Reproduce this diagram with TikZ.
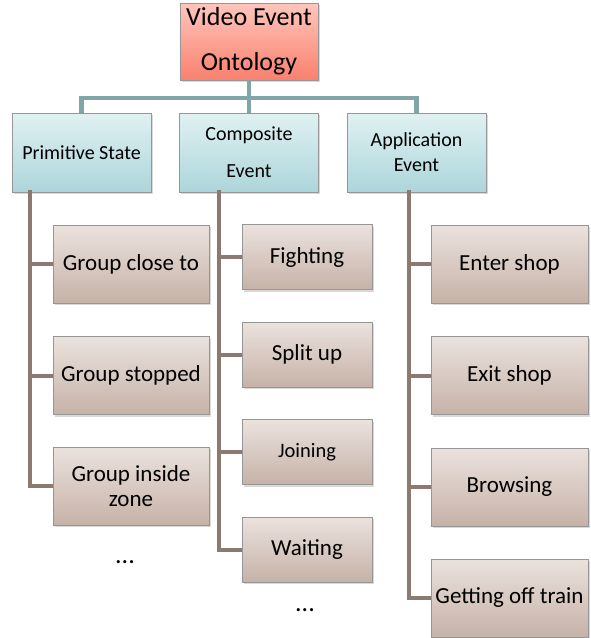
\documentclass[tikz,border=0pt]{standalone}
\usepackage{fontspec}
\setmainfont{Carlito}
\usetikzlibrary{shadows}
\definecolor{rootTop}{RGB}{255,198,188}
\definecolor{rootBot}{RGB}{249,128,110}
\definecolor{midTop}{RGB}{224,241,243}
\definecolor{midBot}{RGB}{172,214,218}
\definecolor{leafTop}{RGB}{235,226,222}
\definecolor{leafBot}{RGB}{198,178,167}
\definecolor{boxEdge}{RGB}{150,150,150}
\definecolor{tealLine}{RGB}{128,166,166}
\definecolor{brownLine}{RGB}{140,122,112}
\tikzset{
  basebox/.style={rectangle, draw=boxEdge, line width=0.8pt, align=center, inner sep=1pt,
    drop shadow={opacity=0.3, shadow xshift=1.5pt, shadow yshift=-2pt}},
  rootbox/.style={basebox, top color=rootTop, bottom color=rootBot,
    minimum width=138pt, minimum height=77pt, font=\fontsize{26}{45}\selectfont},
  midbox/.style={basebox, top color=midTop, bottom color=midBot,
    minimum width=139pt, minimum height=79pt, font=\fontsize{20}{25}\selectfont},
  leafbox/.style={basebox, top color=leafTop, bottom color=leafBot,
    minimum height=78pt, font=\fontsize{23}{25}\selectfont},
  wideleaf/.style={leafbox, minimum width=156pt},
  compleaf/.style={leafbox, minimum width=130pt, minimum height=65pt},
  appleaf/.style={leafbox, minimum width=157pt},
  tealconn/.style={draw=tealLine, line width=4.5pt},
  brownconn/.style={draw=brownLine, line width=4pt},
  dots/.style={font=\fontsize{26}{26}\selectfont}
}
\begin{document}
\begin{tikzpicture}[x=1pt,y=-1pt]
\useasboundingbox (0,0) rectangle (591,638);
\coordinate (hb) at (249,98);
\coordinate (pv) at (30,190);
\coordinate (cv) at (219,190);
\coordinate (av) at (409,190);

\node[rootbox] (root) at (249,41.5) {Video Event\\Ontology};
\node[midbox] (prim) at (81.5,152.5) {Primitive State};
\node[midbox, font=\fontsize{20}{37}\selectfont] (comp) at (249,152.5) {Composite\\Event};
\node[midbox] (app) at (416.5,152.5) {Application\\Event};

\node[wideleaf] (p1) at (131,264) {Group close to};
\node[wideleaf] (p2) at (131,375.5) {Group stopped};
\node[wideleaf] (p3) at (131,486) {Group inside\\zone};

\node[compleaf] (c1) at (307,257) {Fighting};
\node[compleaf] (c2) at (307,354.5) {Split up};
\node[compleaf, font=\fontsize{20.5}{22}\selectfont] (c3) at (307,452) {Joining};
\node[compleaf] (c4) at (307,549.5) {Waiting};

\node[appleaf] (a1) at (509.5,264) {Enter shop};
\node[appleaf] (a2) at (509.5,375.5) {Exit shop};
\node[appleaf] (a3) at (509.5,487) {Browsing};
\node[appleaf] (a4) at (509.5,598) {Getting off train};

\node[dots] (pd) at (125,562) {...};
\node[dots] (cd) at (305,610) {...};

\draw[tealconn] (root.south) -- (comp.north);
\draw[tealconn] (prim.north) |- (hb) -| (app.north);

\draw[brownconn] (pv) |- (p3.west);
\draw[brownconn] (pv |- p1.west) -- (p1.west);
\draw[brownconn] (pv |- p2.west) -- (p2.west);

\draw[brownconn] (cv) |- (c4.west);
\draw[brownconn] (cv |- c1.west) -- (c1.west);
\draw[brownconn] (cv |- c2.west) -- (c2.west);
\draw[brownconn] (cv |- c3.west) -- (c3.west);

\draw[brownconn] (av) |- (a4.west);
\draw[brownconn] (av |- a1.west) -- (a1.west);
\draw[brownconn] (av |- a2.west) -- (a2.west);
\draw[brownconn] (av |- a3.west) -- (a3.west);
\end{tikzpicture}
\end{document}
